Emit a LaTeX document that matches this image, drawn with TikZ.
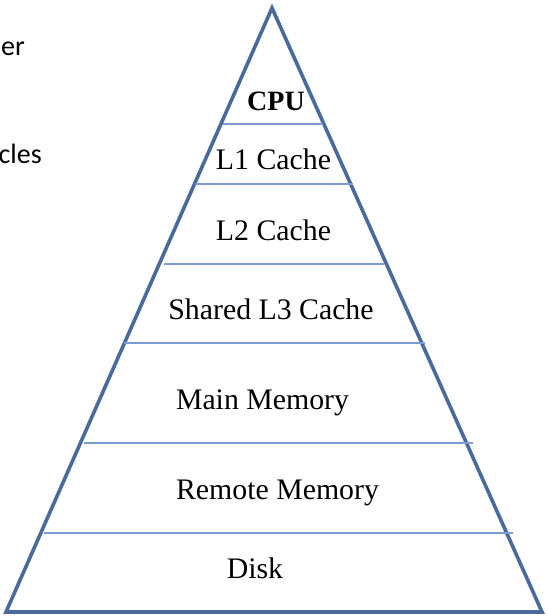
\documentclass[tikz,border=0pt]{standalone}
\usepackage{fontspec}
\setmainfont{Liberation Serif}
\newfontfamily\notefont{Carlito}
\usetikzlibrary{positioning}
\definecolor{edge}{HTML}{4A6A9C}
\definecolor{level}{HTML}{7C9BD0}
\tikzset{
    %Define style for the pyramid outline
    outline/.style={
    	draw=edge,
    	line width=3.6pt,
    	line join=miter
    },
    %Define style for the level lines
    divider/.style={
    	draw=level,
    	line width=1.4pt
    },
    %Define style for the level labels
    layer/.style={
    	anchor=base,
    	inner sep=0pt,
    	font=\fontsize{29.8}{32}\selectfont
    },
    %Define style for the cut off side notes
    note/.style={
    	anchor=base east,
    	inner sep=0pt,
    	font=\notefont\fontsize{28}{30}\selectfont
    }
}
\begin{document}
\begin{tikzpicture}[x=1pt,y=-1pt]
		\useasboundingbox (0,0) rectangle (548,616);
		%pyramid
		\coordinate (top) at (272,8);
		\coordinate (bl) at (6,612);
		\coordinate (br) at (542,612);
		\draw[outline] (top) -- (bl) -- (br) -- cycle;
		%levels
		\draw[divider] (223,124) -- (323,124);
		\draw[divider] (195,184) -- (353,184);
		\draw[divider] (164,264) -- (384,264);
		\draw[divider] (124,343) -- (425,343);
		\draw[divider] (84,443) -- (473,443);
		\draw[divider] (44,533) -- (513,533);
		%labels
		\node[layer, font=\bfseries\fontsize{28}{30}\selectfont] (cpu) at (276,110) {CPU};
		\node[layer] (l1) at (273.5,169) {L1 Cache};
		\node[layer] (l2) at (273.5,240) {L2 Cache};
		\node[layer] (l3) at (271,319) {Shared L3 Cache};
		\node[layer] (main) at (262.5,409) {Main Memory};
		\node[layer] (remote) at (277.5,499) {Remote Memory};
		\node[layer] (disk) at (255,578) {Disk};
		%side notes
		\node[note] (n1) at (25,55) {er};
		\node[note] (n2) at (42,163) {cles};
\end{tikzpicture}
\end{document}
